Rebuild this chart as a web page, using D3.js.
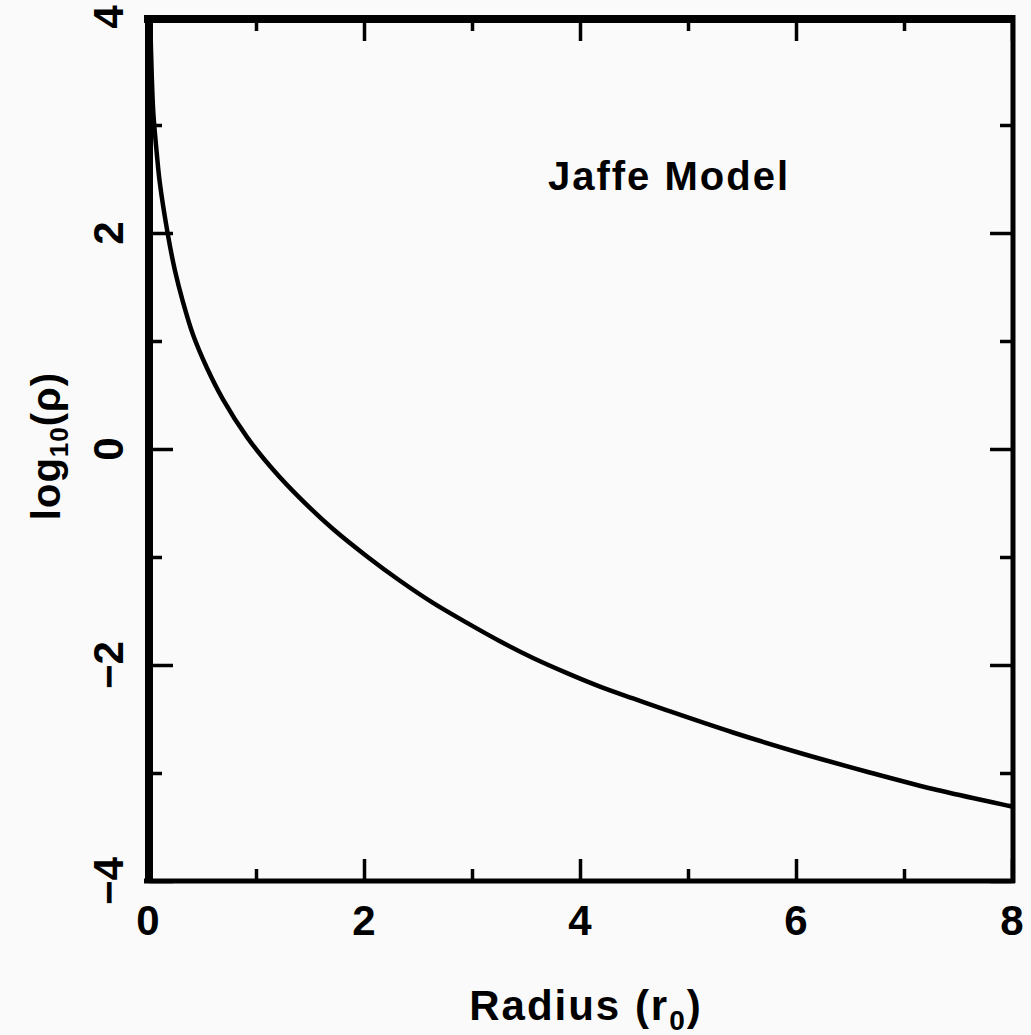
<!DOCTYPE html>
<html>
<head>
<meta charset="utf-8">
<script src="https://cdn.jsdelivr.net/npm/d3@7"></script>
<style>
  html, body { margin: 0; padding: 0; background: #f9faf9; }
  svg { display: block; }
  text { font-family: "Liberation Sans", Arial, Helvetica, sans-serif; font-weight: bold; fill: #000; }
</style>
</head>
<body>
<svg id="chart" width="1031" height="1035"></svg>
<script>
// ---- data ----
const radius = [0.02, 0.035, 0.05, 0.08, 0.11, 0.185, 0.25, 0.324, 0.417, 0.546, 0.694, 0.917, 1.157, 1.407, 1.713, 2.028, 2.333, 2.639, 2.954, 3.259, 3.565, 3.880, 4.185, 4.491, 4.806, 5.417, 6.037, 6.657, 7.269, 8.0];
const logRho = [4.0, 3.45, 3.1, 2.75, 2.46, 1.98, 1.65, 1.36, 1.057, 0.75, 0.46, 0.11, -0.19, -0.455, -0.741, -0.995, -1.22, -1.425, -1.610, -1.780, -1.935, -2.075, -2.200, -2.310, -2.420, -2.625, -2.815, -2.988, -3.148, -3.31];

const xMajor = [0, 2, 4, 6, 8];
const xMinor = [1, 3, 5, 7];
const yMajor = [-4, -2, 0, 2, 4];
const yMinor = [-3, -1, 1, 3];
const xTickLabels = ["0", "2", "4", "6", "8"];
const yTickLabels = ["\u22124", "\u22122", "0", "2", "4"];
const titleText = "Jaffe Model";

// ---- layout ----
const svg = d3.select("#chart");
const L = 148, R = 1012, T = 17, B = 881;

const x = d3.scaleLinear().domain([0, 8]).range([L, R]);
const y = d3.scaleLinear().domain([-4, 4]).range([B, T]);

const pts = radius.map((r, i) => [r, logRho[i]]);

// curve
const line = d3.line()
  .x(d => x(d[0]))
  .y(d => y(d[1]))
  .curve(d3.curveCatmullRom.alpha(0.5));

svg.append("path")
  .datum(pts)
  .attr("d", line)
  .attr("fill", "none")
  .attr("stroke", "#000")
  .attr("stroke-width", 4.5);

// ticks via d3 axes (inward)
function tickAxis(axisFn, scale, vals, size, transform) {
  const g = svg.append("g")
    .attr("transform", transform)
    .call(axisFn(scale).tickValues(vals).tickSize(size).tickFormat(""));
  g.select(".domain").remove();
  g.selectAll(".tick line").attr("stroke", "#000").attr("stroke-width", 3.5);
  return g;
}
// bottom
tickAxis(d3.axisTop, x, xMajor, 22, `translate(0,${B})`);
tickAxis(d3.axisTop, x, xMinor, 12, `translate(0,${B})`);
// top
tickAxis(d3.axisBottom, x, xMajor, 22, `translate(0,${T + 2})`);
tickAxis(d3.axisBottom, x, xMinor, 12, `translate(0,${T + 2})`);
// left
tickAxis(d3.axisRight, y, yMajor, 24, `translate(${L + 1},0)`);
tickAxis(d3.axisRight, y, yMinor, 13, `translate(${L + 1},0)`);
// right
tickAxis(d3.axisLeft, y, yMajor, 22, `translate(${R},0)`);
tickAxis(d3.axisLeft, y, yMinor, 12, `translate(${R},0)`);

// frame
svg.append("line").attr("x1", L - 4).attr("x2", R + 3).attr("y1", 19).attr("y2", 19)
  .attr("stroke", "#000").attr("stroke-width", 8);
svg.append("line").attr("x1", 149).attr("x2", 149).attr("y1", 15).attr("y2", B + 2)
  .attr("stroke", "#000").attr("stroke-width", 8);
svg.append("line").attr("x1", L - 4).attr("x2", R + 3).attr("y1", B).attr("y2", B)
  .attr("stroke", "#000").attr("stroke-width", 5);
svg.append("line").attr("x1", R + 1).attr("x2", R + 1).attr("y1", 15).attr("y2", B + 2)
  .attr("stroke", "#000").attr("stroke-width", 5);

// x tick labels
svg.append("g").selectAll("text")
  .data(xMajor)
  .join("text")
  .attr("x", d => x(d))
  .attr("y", 935)
  .attr("text-anchor", "middle")
  .attr("font-size", 42)
  .text((d, i) => xTickLabels[i]);

// y tick labels (rotated)
svg.append("g").selectAll("text")
  .data(yMajor)
  .join("text")
  .attr("transform", d => `translate(123,${y(d)}) rotate(-90)`)
  .attr("text-anchor", "middle")
  .attr("font-size", 42)
  .text((d, i) => yTickLabels[i]);

// title
svg.append("text")
  .attr("x", 669).attr("y", 190)
  .attr("text-anchor", "middle")
  .attr("font-size", 40)
  .attr("letter-spacing", 2)
  .text(titleText);

// x axis label
const xl = svg.append("text")
  .attr("x", 586).attr("y", 1020)
  .attr("text-anchor", "middle")
  .attr("font-size", 42)
  .attr("letter-spacing", 2);
xl.append("tspan").text("Radius (r");
xl.append("tspan").attr("font-size", 28).attr("dy", 10).text("0");
xl.append("tspan").attr("dy", -10).text(")");

// y axis label
const yl = svg.append("text")
  .attr("transform", `translate(60,446) rotate(-90)`)
  .attr("text-anchor", "middle")
  .attr("font-size", 40)
  .attr("letter-spacing", 1);
yl.append("tspan").text("log");
yl.append("tspan").attr("font-size", 26).attr("dy", 8).text("10");
yl.append("tspan").attr("dy", -8).text("(\u03c1)");
</script>
</body>
</html>
